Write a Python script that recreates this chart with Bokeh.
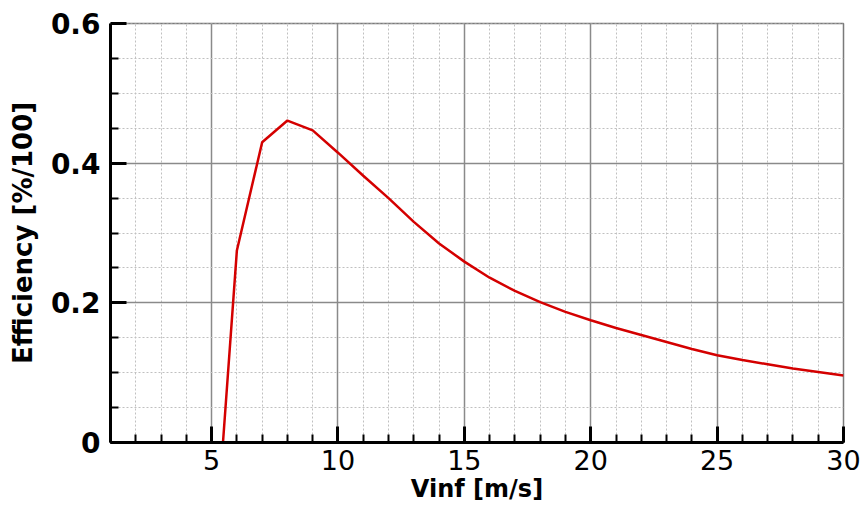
from bokeh.plotting import figure
from bokeh.models import FixedTicker, Range1d
from bokeh.embed import file_html
from bokeh.resources import INLINE

# data
vinf = [5.45, 6, 7, 8, 9, 10, 11, 12, 13, 14, 15, 16, 17, 18, 19, 20,
        21, 22, 23, 24, 25, 26, 27, 28, 29, 30]
efficiency = [0.0, 0.275, 0.430, 0.461, 0.447, 0.415, 0.382, 0.350, 0.316,
              0.285, 0.259, 0.236, 0.217, 0.201, 0.187, 0.175, 0.164, 0.154,
              0.144, 0.134, 0.125, 0.118, 0.112, 0.106, 0.101, 0.096]
x_major = [5, 10, 15, 20, 25, 30]
x_minor = list(range(1, 31))
y_major = [0, 0.2, 0.4, 0.6]
y_minor = [i * 0.05 for i in range(13)]
y_labels = {0: "0", 0.2: "0.2", 0.4: "0.4", 0.6: "0.6"}

FONT = "DejaVu Sans"

p = figure(width=866, height=510, output_backend="svg", toolbar_location=None,
           x_range=Range1d(1, 30), y_range=Range1d(0, 0.6),
           min_border_left=110, min_border_right=23, min_border_top=23,
           min_border_bottom=68)
p.background_fill_color = "white"
p.border_fill_color = "white"
p.outline_line_color = "#7a7a7a"
p.outline_line_width = 1.5

p.line(vinf, efficiency, line_color="#d40000", line_width=2.5)

p.xaxis.ticker = FixedTicker(ticks=x_major, minor_ticks=x_minor)
p.yaxis.ticker = FixedTicker(ticks=y_major, minor_ticks=y_minor)
p.yaxis.major_label_overrides = y_labels

for ax in (p.xaxis[0], p.yaxis[0]):
    ax.axis_line_color = "black"
    ax.axis_line_width = 3
    ax.major_tick_in = 16
    ax.major_tick_out = 0
    ax.minor_tick_in = 8
    ax.minor_tick_out = 0
    ax.major_tick_line_width = 3
    ax.minor_tick_line_width = 2
    ax.major_tick_line_color = "black"
    ax.minor_tick_line_color = "black"
    ax.major_label_text_font = FONT
    ax.axis_label_text_font = FONT
    ax.axis_label_text_font_style = "bold"
    ax.axis_label_text_color = "black"
    ax.major_label_text_color = "black"

p.xaxis.axis_label = "Vinf [m/s]"
p.yaxis.axis_label = "Efficiency [%/100]"
p.xaxis.major_label_text_font_size = "27px"
p.xaxis.major_label_text_font_style = "normal"
p.yaxis.major_label_text_font_size = "28px"
p.yaxis.major_label_text_font_style = "bold"
p.xaxis.axis_label_text_font_size = "24px"
p.yaxis.axis_label_text_font_size = "26px"
p.xaxis.major_label_standoff = 7
p.yaxis.major_label_standoff = 10
p.xaxis.axis_label_standoff = 2
p.yaxis.axis_label_standoff = 10

for g in (p.xgrid[0], p.ygrid[0]):
    g.grid_line_color = "#8a8a8a"
    g.grid_line_width = 1.5
    g.minor_grid_line_color = "#c0c0c0"
    g.minor_grid_line_width = 1
    g.minor_grid_line_dash = "2 2"

open("out.html", "w").write(file_html(p, INLINE))
